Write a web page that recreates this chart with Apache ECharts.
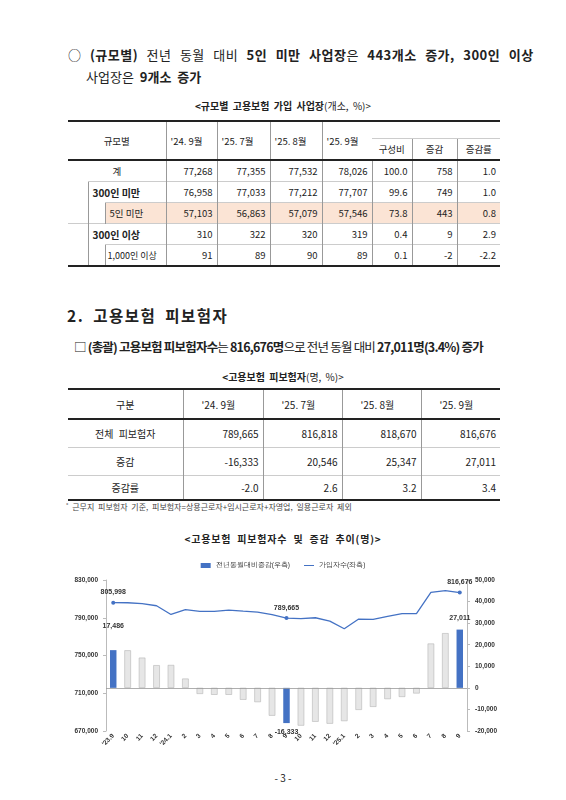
<!DOCTYPE html>
<html><head><meta charset="utf-8">
<script src="https://cdn.jsdelivr.net/npm/echarts@6/dist/echarts.min.js"></script>
<style>
body{margin:0;width:566px;height:800px;background:#fff;font-family:"Noto Sans CJK KR","Noto Sans",sans-serif;color:#222;position:relative;overflow:hidden}
.a{position:absolute;white-space:nowrap}
table{border-collapse:collapse;position:absolute;font-size:9.5px;table-layout:fixed}
td{padding:0 4px;height:20px;text-align:right;border-left:1px solid #999;border-top:1px solid #ccc;white-space:nowrap}
td:first-child{border-left:none}
.c{text-align:center}.l{text-align:left}.b{font-weight:bold}
</style></head><body>
<div class="a" style="left:68px;top:45px;font-size:13px;word-spacing:5px;letter-spacing:0.5px">○ <b>(규모별)</b> 전년 동월 대비 <b>5인 미만 사업장</b>은 <b>443개소 증가, 300인 이상</b></div>
<div class="a" style="left:86px;top:67px;font-size:13px;word-spacing:3px">사업장은 <b>9개소 증가</b></div>
<div class="a" style="left:0;width:566px;text-align:center;top:98px;font-size:10px;word-spacing:2px"><b>&lt;규모별 고용보험 가입 사업장</b>(개소, %)&gt;</div>
<table style="left:68px;top:120px;width:432px;border-top:2px solid #222;border-bottom:2px solid #222">
<colgroup><col style="width:20px"><col style="width:17px"><col style="width:61px"><col style="width:51px"><col style="width:53px"><col style="width:52px"><col style="width:50px"><col style="width:40px"><col style="width:45px"><col style="width:43px"></colgroup>
<tr><td colspan="3" rowspan="2" class="c" style="border-bottom:2px solid #222">규모별</td><td rowspan="2" class="l" style="border-bottom:2px solid #222">'24. 9월</td><td rowspan="2" class="l" style="border-bottom:2px solid #222">'25. 7월</td><td rowspan="2" class="l" style="border-bottom:2px solid #222">'25. 8월</td><td rowspan="2" class="l" style="border-bottom:2px solid #222">'25. 9월</td><td colspan="3" style="height:16px;border-bottom:none;border-left:none"></td></tr>
<tr><td class="c" style="border-bottom:2px solid #222">구성비</td><td class="c" style="border-bottom:2px solid #222">증감</td><td class="c" style="border-bottom:2px solid #222">증감률</td></tr>
<tr><td colspan="3" class="c">계</td><td>77,268</td><td>77,355</td><td>77,532</td><td>78,026</td><td>100.0</td><td>758</td><td>1.0</td></tr>
<tr><td rowspan="2" style="border-top:none"></td><td colspan="2" class="l b" style="border-left:1px solid #999;font-size:10px">300인 미만</td><td>76,958</td><td>77,033</td><td>77,212</td><td>77,707</td><td>99.6</td><td>749</td><td>1.0</td></tr>
<tr style="background:#fbe4d5"><td style="background:#fff;border-top:none;border-left:1px solid #999"></td><td class="l">5인 미만</td><td>57,103</td><td>56,863</td><td>57,079</td><td>57,546</td><td>73.8</td><td>443</td><td>0.8</td></tr>
<tr><td rowspan="2" style="border-top:1px solid #ccc"></td><td colspan="2" class="l b" style="border-left:1px solid #999;font-size:10px">300인 이상</td><td>310</td><td>322</td><td>320</td><td>319</td><td>0.4</td><td>9</td><td>2.9</td></tr>
<tr><td style="border-top:none;border-left:1px solid #999"></td><td class="l" style="padding:0 2px;font-size:9px">1,000인 이상</td><td>91</td><td>89</td><td>90</td><td>89</td><td>0.1</td><td>-2</td><td>-2.2</td></tr>
</table>
<div class="a b" style="left:67px;top:304px;font-size:15.5px;font-weight:bold;letter-spacing:1.5px;word-spacing:4px">2. 고용보험 피보험자</div>
<div class="a" style="left:74px;top:337px;font-size:12.5px;letter-spacing:-0.8px">□ <b>(총괄) 고용보험 피보험자수</b>는 <b>816,676명</b>으로 전년 동월 대비 <b>27,011명(3.4%) 증가</b></div>
<div class="a" style="left:0;width:566px;text-align:center;top:369px;font-size:10px;word-spacing:2px"><b>&lt;고용보험 피보험자</b>(명, %)&gt;</div>
<table style="left:68px;top:388px;width:432px;border-top:2px solid #222;border-bottom:2px solid #222;font-size:10px">
<colgroup><col style="width:115px"><col style="width:80px"><col style="width:79px"><col style="width:79px"><col style="width:79px"></colgroup>
<tr><td class="c" style="height:28px;border-bottom:2px solid #222">구분</td><td class="l" style="border-bottom:2px solid #222;padding-left:18px">'24. 9월</td><td class="l" style="border-bottom:2px solid #222;padding-left:18px">'25. 7월</td><td class="l" style="border-bottom:2px solid #222;padding-left:18px">'25. 8월</td><td class="l" style="border-bottom:2px solid #222;padding-left:18px">'25. 9월</td></tr>
<tr><td class="c" style="height:27px;word-spacing:3px">전체 피보험자</td><td>789,665</td><td>816,818</td><td>818,670</td><td>816,676</td></tr>
<tr><td class="c" style="height:27px">증감</td><td>-16,333</td><td>20,546</td><td>25,347</td><td>27,011</td></tr>
<tr><td class="c" style="height:23px">증감률</td><td>-2.0</td><td>2.6</td><td>3.2</td><td>3.4</td></tr>
</table>
<div class="a" style="left:66px;top:501px;font-size:8px;color:#444;word-spacing:2px">˚ 근무지 피보험자 기준, 피보험자=상용근로자+임시근로자+자영업, 일용근로자 제외</div>
<div class="a" style="left:0;width:566px;text-align:center;top:531px;font-size:10px;font-weight:bold;letter-spacing:0.8px;word-spacing:3px">&lt;고용보험 피보험자수 및 증감 추이(명)&gt;</div>
<div id="chart" style="position:absolute;left:62px;top:553px;width:442px;height:205px"></div>
<div class="a" style="left:0;width:566px;text-align:center;top:770px;font-size:10px">- 3 -</div>
<script>
const categories=["'23.9","10","11","12","'24.1","2","3","4","5","6","7","8","9","10","11","12","'25.1","2","3","4","5","6","7","8","9"];
const changeYoY=[17486,17400,14000,10500,10600,4300,-2800,-3200,-3200,-5500,-6600,-12900,-16333,-17500,-15700,-16600,-15400,-10200,-8800,-5200,-4200,-2600,20546,25347,27011];
const insured=[805998,805900,804900,802700,793500,798500,796700,796700,798100,797000,796000,793200,789665,789000,790000,786500,778300,788600,788200,791400,794300,794300,816818,818670,816676];
const highlight=[0,12,24];
const leftTicks={min:670000,max:830000,interval:40000};
const rightTicks={min:-20000,max:50000,interval:10000};
const blue='#4472C4';
const ch=echarts.init(document.getElementById('chart'));
const fmt=v=>v.toLocaleString('en-US');
ch.setOption({
 animation:false,
 legend:{top:4,left:'center',itemWidth:10,itemHeight:5,itemGap:14,textStyle:{fontSize:6.5,color:'#333'},
  data:[{name:'전년동월대비증감(우측)',icon:'rect'},{name:'가입자수(좌측)',icon:'path://M0,0H20V2H0Z'}]},
 grid:{left:44,right:37,top:27,bottom:27},
 xAxis:{type:'category',data:categories,axisLine:{show:false},axisTick:{show:false},
  axisLabel:{rotate:45,fontSize:6.5,fontWeight:'bold',color:'#333',interval:0,margin:4}},
 yAxis:[
  {type:'value',...leftTicks,axisLine:{show:true,lineStyle:{color:'#bbb'}},axisTick:{show:true,length:3,lineStyle:{color:'#bbb'}},splitLine:{show:false},
   axisLabel:{fontSize:6.5,fontWeight:'bold',color:'#333',formatter:v=>fmt(v)}},
  {type:'value',...rightTicks,axisLine:{show:true,lineStyle:{color:'#bbb'}},axisTick:{show:true,length:3,lineStyle:{color:'#bbb'}},splitLine:{show:false},
   axisLabel:{fontSize:6.5,fontWeight:'bold',color:'#333',formatter:v=>fmt(v)}}
 ],
 series:[
  {name:'전년동월대비증감(우측)',type:'bar',yAxisIndex:1,barWidth:'45%',z:1,
   itemStyle:{color:blue},
   data:changeYoY.map((v,i)=>highlight.includes(i)?{value:v,itemStyle:{color:blue},
     label:{show:true,position:v<0?'bottom':'top',fontSize:7,fontWeight:'bold',color:'#333',formatter:p=>fmt(p.value),offset:i===0?[0,-16]:(i===24?[0,-3]:[0,0])}}
     :{value:v,itemStyle:{color:'#e6e6e6',borderColor:'#aaa',borderWidth:0.5}}),
   markLine:{silent:true,symbol:'none',label:{show:false},lineStyle:{color:'#999',type:'solid',width:0.8},data:[{yAxis:0}]}},
  {name:'가입자수(좌측)',type:'line',yAxisIndex:0,z:3,lineStyle:{color:blue,width:1.3},itemStyle:{color:blue},
   symbol:'circle',symbolSize:4,showAllSymbol:true,
   data:insured.map((v,i)=>highlight.includes(i)?{value:v,label:{show:true,position:'top',fontSize:7,fontWeight:'bold',color:'#333',formatter:p=>fmt(p.value)}}:{value:v,symbolSize:0})}
 ]
});
</script>
</body></html>
